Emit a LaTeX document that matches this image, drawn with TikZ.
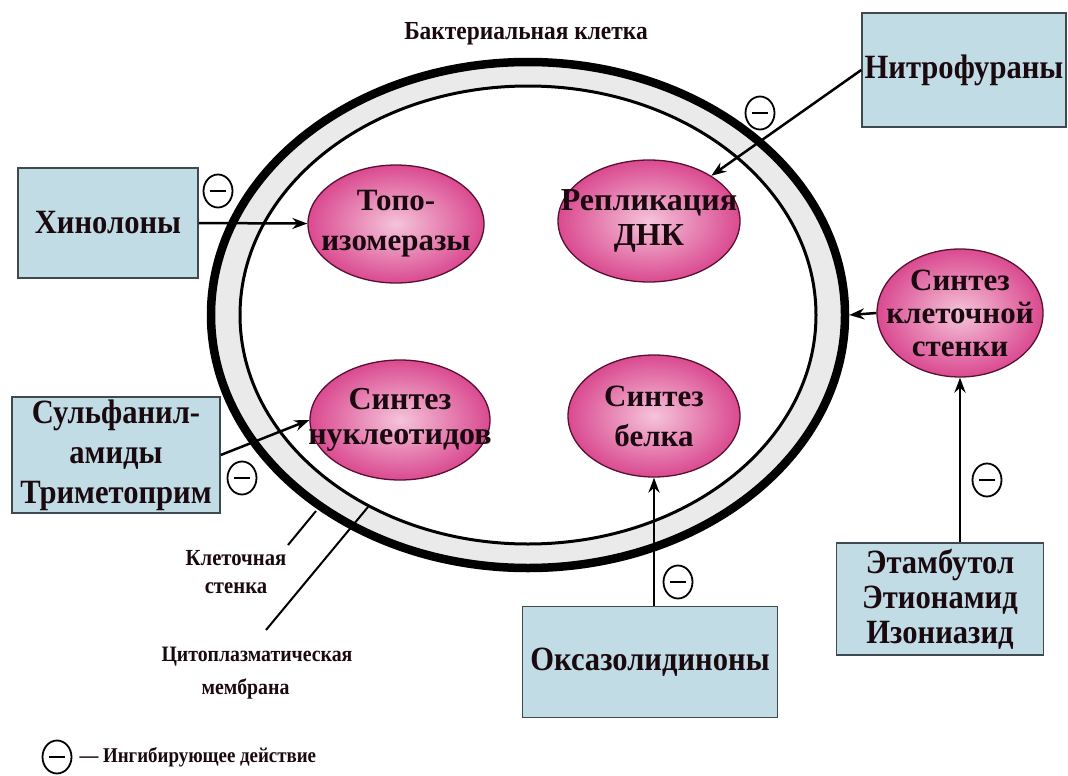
\documentclass[tikz,border=0pt]{standalone}
\usepackage{fontspec}
\setmainfont{Liberation Serif}[FakeStretch=0.9]
\newfontfamily\ellfont{Liberation Serif}
\usetikzlibrary{shapes.geometric,arrows.meta}
\definecolor{boxfill}{HTML}{C2DCE6}
\definecolor{boxline}{HTML}{3E4A50}
\definecolor{pinkin}{HTML}{F5C4DA}
\definecolor{pinkout}{HTML}{DA4A90}
\definecolor{pinkline}{HTML}{5A1030}
\definecolor{band}{HTML}{EAEAEA}
\definecolor{ink}{HTML}{1A0A10}
\begin{document}
\begin{tikzpicture}[x=1pt,y=-1pt,
  box/.style={draw=boxline, fill=boxfill, line width=1.5pt, inner sep=0pt, align=center, text=ink,
    font=\bfseries\fontsize{34}{40}\selectfont},
  target/.style={ellipse, draw=pinkline, line width=1.3pt, inner sep=0pt, inner color=pinkin, outer color=pinkout},
  ttext/.style={align=center, text=ink, inner sep=0pt},
  arr/.style={line width=2.5pt, -{Stealth[length=15pt,width=11pt]}},
  inhib/.style={ellipse, draw, line width=1.8pt, fill=white, minimum width=29pt, minimum height=33pt, inner sep=0pt,
    path picture={\draw[line width=2.4pt] ([xshift=-8pt]path picture bounding box.center) -- ([xshift=8pt]path picture bounding box.center);}},
  lbl/.style={align=center, text=ink, font=\bfseries\fontsize{23}{28}\selectfont},
  ptr/.style={line width=2pt}
]
\useasboundingbox (0,0) rectangle (1068,776);
\fill[white] (0,0) rectangle (1068,776);

% cell wall and membrane
\node[ellipse, draw, line width=8.5pt, fill=band, minimum width=634pt, minimum height=506pt, inner sep=0pt] (cell) at (528,315) {};
\node[ellipse, draw, line width=3pt, fill=white, minimum width=576pt, minimum height=458pt, inner sep=0pt] (memb) at (528,315) {};

\node[lbl, font=\bfseries\fontsize{26}{30}\selectfont] (title) at (526,34) {Бактериальная клетка};

% targets
\node[target, minimum width=176pt, minimum height=118pt] (topo) at (396,224) {};
\node[ttext, font=\ellfont\bfseries\fontsize{31}{40}\selectfont] (topo-t) at (topo) {Топо-\\изомеразы};
\node[target, minimum width=182pt, minimum height=122pt] (repl) at (649,221) {};
\node[ttext, font=\ellfont\bfseries\fontsize{32}{35}\selectfont] (repl-t) at (repl) {Репликация\\ДНК};
\node[target, minimum width=180pt, minimum height=120pt] (nucl) at (400,420) {};
\node[ttext, font=\ellfont\bfseries\fontsize{32}{35}\selectfont] (nucl-t) at (nucl) {Синтез\\нуклеотидов};
\node[target, minimum width=172pt, minimum height=122pt] (belok) at (654,416) {};
\node[ttext, font=\ellfont\bfseries\fontsize{31}{40}\selectfont] (belok-t) at (belok) {Синтез\\белка};
\node[target, minimum width=166pt, minimum height=128pt] (wall) at (960,313) {};
\node[ttext, font=\ellfont\bfseries\fontsize{31}{33}\selectfont] (wall-t) at (wall) {Синтез\\клеточной\\стенки};

% drug boxes
\node[box, minimum width=180pt, minimum height=110pt] (hin) at (108,223) {Хинолоны};
\node[box, minimum width=208pt, minimum height=116pt] (sulf) at (116,455) {Сульфанил-\\амиды\\Триметоприм};
\node[box, minimum width=204pt, minimum height=114pt] (nitro) at (964,70) {Нитрофураны};
\node[box, minimum width=255pt, minimum height=111pt] (oxa) at (650,662) {Оксазолидиноны};
\node[box, minimum width=207pt, minimum height=112pt, font=\bfseries\fontsize{34}{35}\selectfont] (etam) at (940,599) {Этамбутол\\Этионамид\\Изониазид};

% arrows
\draw[arr] (hin.east) -- (topo);
\draw[arr] (sulf.east) -- (nucl.west);
\draw[arr] (nitro.west) -- (repl.36);
\draw[arr] (belok.south |- oxa.north) -- (belok.south);
\draw[arr] (wall.south |- etam.north) -- (wall.south);
\draw[arr] (wall.west) -- (cell.east);

% inhibition marks
\node[inhib] (m1) at (218,191) {};
\node[inhib] (m2) at (242,478) {};
\node[inhib] (m3) at (760,113) {};
\node[inhib] (m4) at (678,582) {};
\node[inhib] (m5) at (987,480) {};

% pointer labels
\node[lbl] (wall-lbl) at (236,572) {Клеточная\\стенка};
\coordinate (c1) at (288,545);
\coordinate (c2) at (316,511);
\draw[ptr] (c1) -- (c2);
\node[lbl, align=left, anchor=north west, font=\bfseries\fontsize{22}{33}\selectfont] (cyto) at (158,644) {Цитоплазматическая\\\hspace*{40pt}мембрана};
\coordinate (c3) at (266,630);
\coordinate (c4) at (368,507);
\draw[ptr] (c3) -- (c4);

% legend
\node[inhib] (m6) at (57,757) {};
\node[anchor=west, text=ink, font=\bfseries\fontsize{21}{26}\selectfont] (legend) at (76,757) {— Ингибирующее действие};
\end{tikzpicture}
\end{document}
